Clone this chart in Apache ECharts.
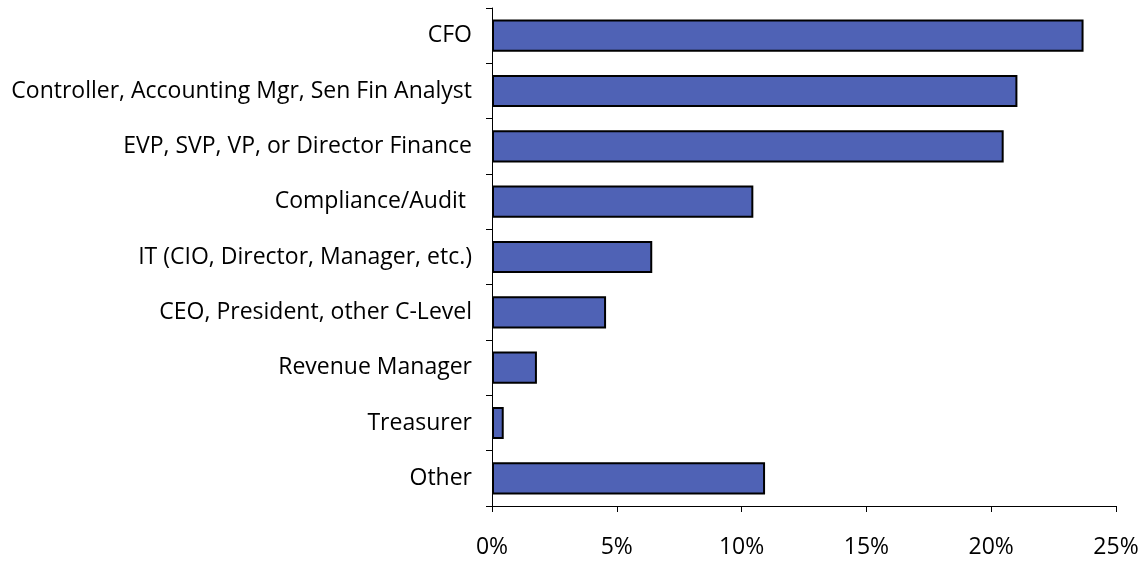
<!DOCTYPE html>
<html>
<head>
<meta charset="utf-8">
<script src="https://cdn.jsdelivr.net/npm/echarts@6/dist/echarts.min.js"></script>
<style>
  html, body { margin: 0; padding: 0; background: #fff; }
  #main { width: 1144px; height: 561px; }
</style>
</head>
<body>
<div id="main"></div>
<script>
// job titles, top to bottom as in the picture
var roles = [
  'CFO',
  'Controller, Accounting Mgr, Sen Fin Analyst',
  'EVP, SVP, VP, or Director Finance',
  'Compliance/Audit ',
  'IT (CIO, Director, Manager, etc.)',
  'CEO, President, other C-Level',
  'Revenue Manager',
  'Treasurer',
  'Other'
];
// share of respondents, in percent
var shares = [23.7, 21.05, 20.5, 10.47, 6.42, 4.57, 1.8, 0.47, 10.94];
var xTicks = [0, 5, 10, 15, 20, 25];

var chart = echarts.init(document.getElementById('main'));
var font = '"Open Sans", Lato, sans-serif';

var option = {
  backgroundColor: '#ffffff',
  animation: false,
  grid: { left: 492, right: 28, top: 8, bottom: 55 },
  xAxis: {
    type: 'value',
    min: xTicks[0],
    max: xTicks[xTicks.length - 1],
    interval: 5,
    axisLine: { show: true, lineStyle: { color: '#000', width: 1 } },
    axisTick: { show: true, length: 6, inside: false, lineStyle: { color: '#000' } },
    splitLine: { show: false },
    axisLabel: {
      color: '#000', fontSize: 23, fontFamily: font, margin: 30,
      formatter: function (v) { return v + '%'; }
    }
  },
  yAxis: {
    type: 'category',
    inverse: true,
    data: roles,
    axisLine: { show: true, lineStyle: { color: '#000', width: 1 } },
    axisTick: { show: true, length: 6, lineStyle: { color: '#000' } },
    axisLabel: { color: '#000', fontSize: 23, fontFamily: font, margin: 20 }
  },
  series: [{
    type: 'bar',
    data: shares,
    barCategoryGap: '42%',
    itemStyle: { color: '#4f62b5', borderColor: '#000', borderWidth: 2 }
  }]
};
chart.setOption(option);
</script>
</body>
</html>
